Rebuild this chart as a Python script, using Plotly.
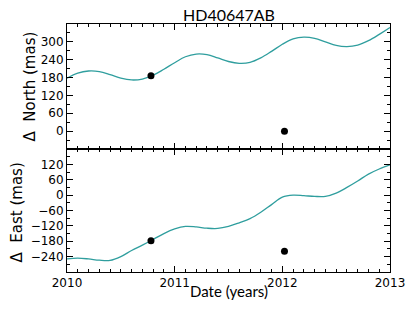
import plotly.graph_objects as go
from plotly.subplots import make_subplots

# Model curve sample dates (years) and offsets (mas)
curve_t = [2010.0, 2010.1, 2010.2, 2010.3, 2010.4, 2010.5, 2010.6, 2010.7, 2010.8, 2010.9,
           2011.0, 2011.1, 2011.2, 2011.3, 2011.4, 2011.5, 2011.6, 2011.7, 2011.8, 2011.9,
           2012.0, 2012.1, 2012.2, 2012.3, 2012.4, 2012.5, 2012.6, 2012.7, 2012.8, 2012.9,
           2013.0]
north_curve = [178, 195, 202, 200, 190, 178, 172, 175, 188, 208,
               230, 250, 259, 257, 246, 234, 228, 231, 246, 268,
               292, 310, 316, 312, 300, 288, 284, 289, 304, 325,
               348]
east_curve = [-249, -246, -249, -254, -255, -240, -216, -195, -173, -150,
              -132, -122, -124, -129, -130, -122, -108, -92, -67, -37,
              -8, 0, -2, -5, -5, 8, 30, 55, 82, 102,
              118]

# Observed points
obs_t = [2010.78, 2012.02]
obs_north = [186, 0]
obs_east = [-178, -219]

north_ticks = [0, 60, 120, 180, 240, 300]
east_ticks = [-240, -180, -120, -60, 0, 60, 120]
year_ticks = [2010, 2011, 2012, 2013]

line_color = "#2f9e9e"
tick_font = dict(family="DejaVu Sans", size=12, color="black")

fig = make_subplots(rows=2, cols=1, shared_xaxes=True, vertical_spacing=0)

fig.add_trace(go.Scatter(x=curve_t, y=north_curve, mode="lines",
                         line=dict(color=line_color, width=1.3, shape="spline", smoothing=1.0),
                         showlegend=False), row=1, col=1)
fig.add_trace(go.Scatter(x=obs_t, y=obs_north, mode="markers",
                         marker=dict(color="black", size=7),
                         showlegend=False), row=1, col=1)
fig.add_trace(go.Scatter(x=curve_t, y=east_curve, mode="lines",
                         line=dict(color=line_color, width=1.3, shape="spline", smoothing=1.0),
                         showlegend=False), row=2, col=1)
fig.add_trace(go.Scatter(x=obs_t, y=obs_east, mode="markers",
                         marker=dict(color="black", size=7),
                         showlegend=False), row=2, col=1)

axis_common = dict(showline=True, linecolor="black", linewidth=1, mirror="allticks",
                   ticks="inside", ticklen=6, tickwidth=1, tickcolor="black",
                   showgrid=False, zeroline=False, tickfont=tick_font, automargin=False)

fig.update_xaxes(**axis_common, range=[2010, 2013], tickvals=year_ticks,
                 ticktext=[str(v) for v in year_ticks],
                 minor=dict(ticks="inside", ticklen=3, dtick=0.1, tick0=2010,
                            tickcolor="black", showgrid=False))
fig.update_xaxes(showticklabels=False, row=1, col=1)

fig.update_yaxes(**axis_common, range=[-60, 360], tickvals=north_ticks,
                 minor=dict(ticks="inside", ticklen=3, dtick=30, tick0=0,
                            tickcolor="black", showgrid=False), row=1, col=1)
fig.update_yaxes(**axis_common, range=[-300, 180], tickvals=east_ticks,
                 minor=dict(ticks="inside", ticklen=3, dtick=30, tick0=0,
                            tickcolor="black", showgrid=False), row=2, col=1)

fig.update_layout(
    width=415, height=312,
    margin=dict(l=67, r=25, t=24, b=40),
    paper_bgcolor="white", plot_bgcolor="white",
    yaxis=dict(domain=[0.496, 1.0]),
    yaxis2=dict(domain=[0.0, 0.496]),
    annotations=[
        dict(text="HD40647AB", xref="paper", yref="paper", x=0.5, y=1.0 + 9 / 248,
             xanchor="center", yanchor="middle", showarrow=False,
             font=dict(family="Lato", size=16, color="black")),
        dict(text="Date (years)", xref="paper", yref="paper", x=0.5, y=-19 / 248,
             xanchor="center", yanchor="middle", showarrow=False,
             font=dict(family="Lato", size=15, color="black")),
        dict(text="Δ  North (mas)", xref="paper", yref="paper", x=-37 / 323, y=0.748,
             xanchor="center", yanchor="middle", textangle=-90, showarrow=False,
             font=dict(family="DejaVu Sans", size=15, color="black")),
        dict(text="Δ  East (mas)", xref="paper", yref="paper", x=-50 / 323, y=0.24,
             xanchor="center", yanchor="middle", textangle=-90, showarrow=False,
             font=dict(family="DejaVu Sans", size=15, color="black")),
    ],
)

fig.write_html("out.html", config={"displayModeBar": False},
               post_script="document.body.style.margin='0';")
